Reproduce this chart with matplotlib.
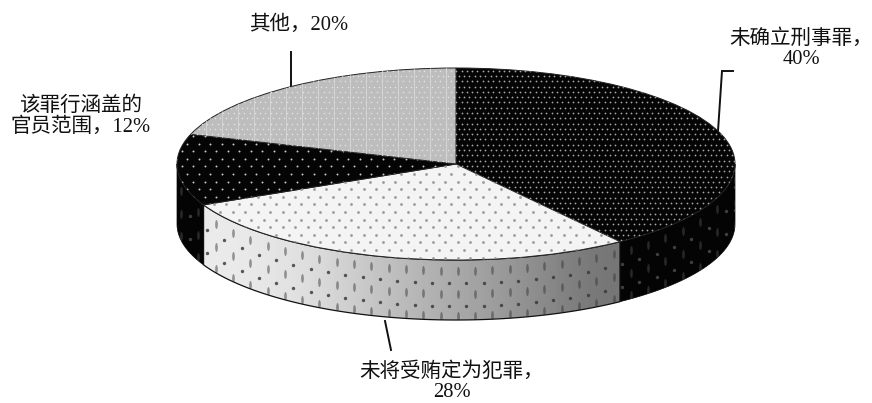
import numpy as np
import matplotlib
matplotlib.use("Agg")
import matplotlib.pyplot as plt
from matplotlib.patches import Polygon
from matplotlib.path import Path
from matplotlib.transforms import Affine2D

labels = ["未确立刑事罪，\n40%", "未将受贿定为犯罪，\n28%", "该罪行涵盖的\n官员范围，12%", "其他，20%"]
values = [40, 28, 12, 20]
top_colors = ["#050505", "#f4f4f4", "#050505", "#bdbdbd"]

W, H = 872, 403
CX, CY, RX, RY, DEPTH = 456, 164, 279, 96, 60
FONT = ["Liberation Serif", "Noto Sans CJK SC"]


def ux(px):
    return (np.asarray(px, dtype=float) - CX) / RX


def uy(py):
    return (CY - np.asarray(py, dtype=float)) / RY


def wall(a0, a1):
    # outer wall between two clockwise angles (degrees from 12 o'clock)
    t = np.radians(np.linspace(a0, a1, 120))
    x, y = np.sin(t), np.cos(t)
    d = DEPTH / RY
    return np.r_[np.c_[x, y], np.c_[x, y - d][::-1]]


def dot_grid(xstep, ystep):
    rows = np.arange(60, 270, ystep)
    xs, ys = [], []
    for i, r in enumerate(rows):
        c = np.arange(170, 740, xstep) + (xstep / 2 if i % 2 else 0)
        xs.append(c)
        ys.append(np.full(len(c), r))
    return ux(np.concatenate(xs)), uy(np.concatenate(ys))


fig = plt.figure(figsize=(W / 100, H / 100), dpi=100)
ax = fig.add_axes([0, 0, 1, 1])

wedges, _ = ax.pie(values, colors=top_colors, startangle=90, counterclock=False,
                   wedgeprops={"linewidth": 0.7, "edgecolor": "#222222", "zorder": 5})
ax.set_aspect("auto")
ax.axis("off")

edges = np.cumsum([0] + values) / sum(values) * 360

# walls: only the front half shows
dark_a = wall(90, edges[1])
dark_b = wall(edges[2], 270)
light = wall(edges[1], edges[2])
ax.add_patch(Polygon(dark_a, closed=True, fc="#040404", ec="#040404", lw=0.5, zorder=2))
ax.add_patch(Polygon(dark_b, closed=True, fc="#040404", ec="#040404", lw=0.5, zorder=2))
light_patch = Polygon(light, closed=True, fc="none", ec="#111111", lw=0.9, zorder=4)
ax.add_patch(light_patch)

gradient = np.array([[0.92, 0.90, 0.86, 0.78, 0.72, 0.66, 0.60, 0.53, 0.46]])
im = ax.imshow(gradient, cmap="gray", vmin=0, vmax=1, aspect="auto", interpolation="bicubic",
               extent=(np.sin(np.radians(edges[2])), np.sin(np.radians(edges[1])), uy(330), uy(200)),
               zorder=2.5)
im.set_clip_path(light_patch)
ax.set_xlim(ux(0), ux(W))
ax.set_ylim(uy(H), uy(0))

# elongated dots on the walls follow the rim
tall = Path.unit_circle().transformed(Affine2D().scale(0.3, 1.0))
for patch_xy, colour, alpha in [(light, "#333333", 0.8), (dark_a, "#7a7a7a", 0.5), (dark_b, "#7a7a7a", 0.5)]:
    clip = Polygon(patch_xy, closed=True, transform=ax.transData)
    for k, off in enumerate([11, 23, 34, 46, 56]):
        px = np.arange(181, 735, 17.3) + (8.6 if k % 2 else 0)
        nx = np.clip(ux(px), -1, 1)
        py = -np.sqrt(1 - nx ** 2) - off / RY
        tall_row = k % 2 == 0
        s = ax.scatter(nx, py, s=42 if tall_row else 6, marker=tall if tall_row else "o",
                       c=colour, alpha=alpha * (0.6 if tall_row else 1), linewidths=0, zorder=3)
        s.set_clip_path(clip)

# dot textures on the top face
textures = [(0, 5.3, 5.3, "#a8a8a8", 1.6), (1, 12.5, 7.6, "#9a9a9a", 4.0),
            (2, 11.5, 7.6, "#c8c8c8", 2.0), (3, 5.3, 5.3, "#e4e4e4", 1.2)]
for idx, xstep, ystep, colour, size in textures:
    gx, gy = dot_grid(xstep, ystep)
    s = ax.scatter(gx, gy, s=size, c=colour, linewidths=0, zorder=6)
    s.set_clip_path(wedges[idx])

# the grey slice has a fine woven grid rather than dots
for px in np.arange(190, 456, 16):
    ln, = ax.plot(ux([px, px]), uy([60, 170]), color="#d8d8d8", lw=0.6, zorder=6)
    ln.set_clip_path(wedges[3])

# leaders
for xs, ys in [([291, 291], [52, 86]), ([733, 722, 718], [71, 71, 131]), ([385, 391], [321, 350])]:
    ax.plot(ux(xs), uy(ys), color="#111111", lw=1.4, zorder=1, solid_joinstyle="miter")

label_pos = [(801, 49), (452, 382), (81, 117), (299, 25)]
for text, (px, py) in zip(labels, label_pos):
    ax.text(ux(px), uy(py), text, ha="center", va="center", fontsize=14.8,
            family=FONT, color="#111111", linespacing=1.12, zorder=8)

fig.savefig("out.png", dpi=100, facecolor="white")
